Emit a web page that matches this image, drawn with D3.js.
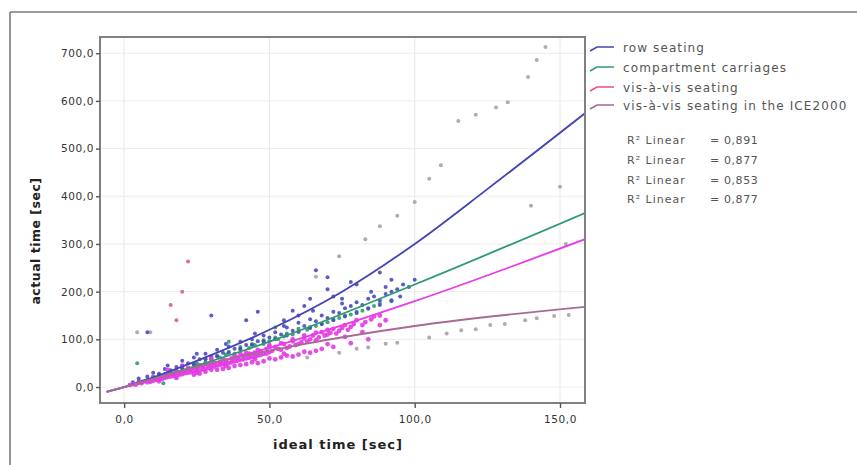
<!DOCTYPE html>
<html><head><meta charset="utf-8">
<script src="https://cdn.jsdelivr.net/npm/d3@7/dist/d3.min.js"></script>
<style>html,body{margin:0;padding:0;background:#fff;}svg{display:block;font-family:"DejaVu Sans",sans-serif;}</style>
</head><body><svg id="c" width="857" height="465"></svg>
<script>
const xTicks = [0, 50, 100, 150];
const yTicks = [0, 100, 200, 300, 400, 500, 600, 700];
const seriesNames = ["row seating", "compartment carriages", "vis-à-vis seating", "vis-à-vis seating in the ICE2000"];
const rSquare = ["0,891", "0,877", "0,853", "0,877"];

const rowPoints = [[3,10],[5,18],[8,22],[10,30],[12,28],[14,38],[15,45],[18,42],[20,55],[22,50],[24,62],[26,58],[28,70],[30,65],[32,78],[34,72],[36,85],[38,80],[40,95],[42,88],[44,100],[46,96],[48,108],[50,104],[52,115],[54,110],[56,125],[58,118],[60,135],[62,128],[64,142],[66,138],[68,150],[70,145],[72,158],[74,155],[76,165],[78,170],[80,178],[82,172],[84,185],[86,190],[88,182],[90,195],[92,200],[94,205],[96,215],[98,210],[100,225],[8,115],[30,150],[42,140],[46,158],[64,185],[70,205],[88,240],[92,225],[55,140],[60,150],[75,185],
  [16,35],[20,38],[24,48],[28,58],[32,64],[36,72],[40,80],[44,88],[48,96],[52,100],[56,108],[60,116],[64,124],[68,132],[72,140],[76,148],[80,155],[84,165],[88,172],[92,182],[25,70],[35,90],[45,112],[55,128],[65,160],[75,175],[85,200],[95,190],[58,160],[62,170],[72,190],[80,215],[90,210],[66,245],[70,230],[78,220]];
const compPoints = [[5,12],[8,16],[10,22],[12,20],[15,30],[18,35],[20,40],[22,38],[25,50],[28,52],[30,58],[33,62],[35,68],[38,70],[40,78],[43,82],[45,88],[48,90],[50,96],[53,100],[55,106],[58,110],[60,116],[63,120],[66,128],[70,136],[74,145],[78,152],[82,160],[86,170],[4.5,50],[13.5,8],[36,95],[52,125],
  [12,26],[16,33],[20,44],[24,46],[28,60],[32,66],[36,74],[40,84],[44,90],[48,98],[52,104],[56,112],[60,122],[64,126],[68,132],[72,142],[76,150],[80,158],[84,164],[88,176],[92,180]];
const visPoints = [[2,4],[3,6],[4,5],[5,9],[6,8],[7,12],[8,10],[9,14],[10,13],[11,18],[12,16],[13,20],[14,19],[15,25],[16,22],[17,28],[18,24],[19,30],[20,27],[21,34],[22,30],[23,36],[24,33],[25,40],[26,35],[27,43],[28,38],[29,47],[30,42],[31,50],[32,45],[33,52],[34,48],[35,56],[36,50],[37,60],[38,54],[39,62],[40,57],[41,66],[42,60],[43,70],[44,63],[45,72],[46,66],[47,75],[48,70],[49,80],[50,73],[52,84],[54,78],[55,90],[57,85],[58,96],[60,90],[62,102],[63,95],[65,108],[67,104],[68,115],[70,110],[72,122],[74,118],[76,130],[78,126],[80,140],[83,136],[86,148],[15,36],[25,30],[35,44],[45,58],[55,70],[20,45],[30,60],[40,70],[50,88],
  [6,11],[9,11],[11,15],[13,17],[15,21],[17,23],[19,26],[21,29],[23,31],[25,34],[27,37],[29,40],[31,43],[33,46],[35,49],[37,52],[39,55],[41,58],[43,61],[45,64],[47,67],[49,70],[51,76],[53,80],[56,82],[59,88],[61,94],[64,100],[66,98],[69,108],[71,114],[73,112],[75,124],[77,120],[79,132],[82,130],[85,142],[88,150],[10,20],[14,26],[18,32],[22,40],[26,46],[30,52],[34,58],[38,66],[42,72],[46,78],[50,84],[54,92],[58,100],[62,108],[66,114],[70,120],[26,28],[32,36],[38,44],[44,52],[50,60],[56,66],[62,74],[68,80],
  [30,36],[36,40],[42,48],[48,54],[54,62],[60,68],[66,76],[72,84],[78,92],[84,100],[12,12],[18,19],[24,26],[28,32],[34,38],[40,46],[46,50],[52,58],[58,64],[64,72],[70,90],[76,105],[82,115],[88,130],[90,140]];
const visOutliers = [[22,263],[20,200],[16,172],[18,140]];
const icePoints = [[4.5,115],[9,115],[63,62],[74,72],[80,80],[84,83],[90,91],[94,93],[105,104],[111,112],[116,119],[121,121],[126,130],[131,132],[138,140],[142,144],[148,149],[153,151],[66,231],[74,274],[83,310],[88,337],[94,359],[100,388],[105,437],[109,465],[115,558],[121,571],[128,586],[132,597],[139,650],[142,686],[145,713],[152,300],[150,420],[140,380]];

const rowFit = [[-6,-10],[0,0],[25,55],[50,120],[75,200],[100,300],[125,415],[158.6,574]];
const compFit = [[-6,-10],[0,0],[50,95],[100,215],[158.6,365]];
const visFit = [[-6,-10],[0,0],[50,82],[100,180],[158.6,310]];
const iceFit = [[-6,-10],[0,0],[30,50],[60,88],[100,128],[158.6,168]];

const colors = ["#4444b4", "#2f9a70", "#e83ce8", "#a86a94"];
const legendColors = ["#4444b4", "#2f9a70", "#e8507a", "#a06898"];

const svg = d3.select("#c");
const x = d3.scaleLinear().domain([-8.3, 158.6]).range([100, 585]);
const y = d3.scaleLinear().domain([-33.5, 734]).range([403, 37]);
const fmt = d => d3.format(".1f")(d).replace(".", ",");

// outer frame
svg.append("line").attr("x1",10).attr("x2",857).attr("y1",12).attr("y2",12).attr("stroke","#7a7a7a").attr("stroke-width",1.6);
svg.append("line").attr("x1",10).attr("x2",10).attr("y1",12).attr("y2",465).attr("stroke","#7a7a7a").attr("stroke-width",1.6);

// grid
svg.append("g").selectAll("line").data(xTicks).join("line")
  .attr("x1",d=>x(d)).attr("x2",d=>x(d)).attr("y1",37).attr("y2",403).attr("stroke","#e6e6e6");
svg.append("g").selectAll("line").data(yTicks).join("line")
  .attr("x1",100).attr("x2",585).attr("y1",d=>y(d)).attr("y2",d=>y(d)).attr("stroke","#ececec");

// points
const allPts = [icePoints, compPoints, rowPoints, visPoints, visOutliers];
const allCols = ["#a8a0ac", "#2e9a6a", "#4a4ac0", "#e23ae2", "#d8607a"];
const radii = [2, 2, 2, 2.4, 2];
allPts.forEach((pts,i)=>{
  svg.append("g").selectAll("circle").data(pts).join("circle")
    .attr("cx",d=>x(d[0])).attr("cy",d=>y(d[1])).attr("r",radii[i])
    .attr("fill",allCols[i]).attr("opacity",0.9);
});

// fit lines
svg.append("clipPath").attr("id","pc").append("rect").attr("x",100).attr("y",37).attr("width",485).attr("height",366);
const line = d3.line().x(d=>x(d[0])).y(d=>y(d[1])).curve(d3.curveMonotoneX);
[rowFit, compFit, visFit, iceFit].forEach((f,i)=>{
  svg.append("path").datum(f).attr("d",line).attr("fill","none").attr("stroke",colors[i])
    .attr("stroke-width",1.8).attr("clip-path","url(#pc)");
});

// plot border
svg.append("rect").attr("x",100).attr("y",37).attr("width",485).attr("height",366)
  .attr("fill","none").attr("stroke","#808080").attr("stroke-width",2);

// axes
const ya = svg.append("g").attr("transform","translate(100,0)")
  .call(d3.axisLeft(y).tickValues(yTicks).tickFormat(fmt).tickSize(4).tickSizeOuter(0));
const xa = svg.append("g").attr("transform","translate(0,403)")
  .call(d3.axisBottom(x).tickValues(xTicks).tickFormat(fmt).tickSize(5).tickSizeOuter(0));
[ya, xa].forEach(a=>{
  a.select(".domain").remove();
  a.selectAll("line").attr("stroke","#555").attr("stroke-width",1.4);
  a.selectAll("text").attr("font-size",10.5).attr("fill","#333").attr("letter-spacing",0.6)
    .attr("font-family","DejaVu Sans, sans-serif");
});
ya.selectAll("text").attr("x",-6);
xa.selectAll("text").attr("y",13);

// titles
svg.append("text").attr("x",338).attr("y",449).attr("text-anchor","middle")
  .attr("font-size",13).attr("font-weight","bold").attr("letter-spacing",1).attr("fill","#222").text("ideal time [sec]");
svg.append("text").attr("transform","translate(40,241) rotate(-90)").attr("text-anchor","middle")
  .attr("font-size",12.5).attr("font-weight","bold").attr("letter-spacing",0.5).attr("fill","#222").text("actual time [sec]");

// legend
const legY = [48, 68, 88, 106];
seriesNames.forEach((n,i)=>{
  const g = svg.append("g");
  g.append("path").attr("d",`M590,${legY[i]+3} L597,${legY[i]-1} L614,${legY[i]-1}`)
    .attr("fill","none").attr("stroke",legendColors[i]).attr("stroke-width",1.6);
  g.append("text").attr("x",623).attr("y",legY[i]+4).attr("font-size",12).attr("letter-spacing",1.1)
    .attr("fill","#555").text(n);
});
const rY = [140, 160, 180, 199];
rSquare.forEach((r,i)=>{
  svg.append("text").attr("x",627).attr("y",rY[i]+4).attr("font-size",11).attr("letter-spacing",1)
    .attr("fill","#555").text("R² Linear");
  svg.append("text").attr("x",710).attr("y",rY[i]+4).attr("font-size",11).attr("letter-spacing",0.6)
    .attr("fill","#555").text("= " + r);
});
</script></body></html>
